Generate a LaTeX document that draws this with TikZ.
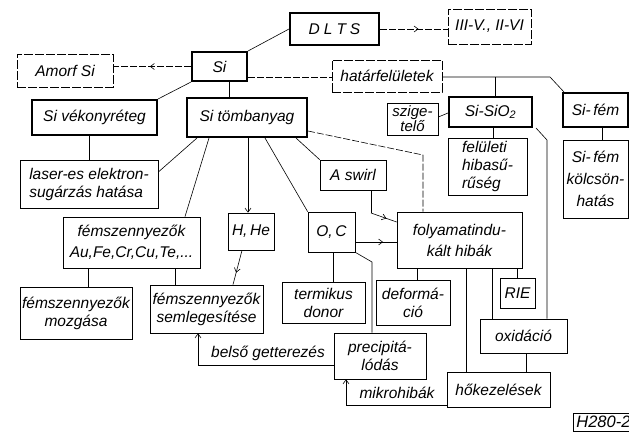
\documentclass[tikz,border=0pt]{standalone}
\usepackage{fontspec}
\setmainfont{Liberation Sans}
\usetikzlibrary{arrows.meta,decorations.markings,calc}
\begin{document}
\begin{tikzpicture}[x=1pt,y=-1pt,
  >={Straight Barb[length=4pt,width=6pt]},
  every node/.style={font=\fontsize{15.5}{18}\selectfont\itshape, inner sep=1pt},
  bx/.style={draw, line width=0.7pt},
  tbx/.style={draw, line width=2pt},
  dbx/.style={draw, line width=0.7pt, dash pattern=on 9pt off 2pt},
  ln/.style={line width=0.6pt},
  dln/.style={line width=0.6pt, dash pattern=on 7pt off 2pt},
  midarrow/.style={postaction={decorate},decoration={markings,mark=at position #1 with {\arrow{>}}}},
  midarrow/.default=0.55]
\fill[white] (0,0) rectangle (629,432);
\useasboundingbox (0,0) rectangle (629,432);

% nodes
\node[tbx, minimum width=89pt, minimum height=32pt] (dlts) at (334.5,29) {D\kern4pt L\kern4pt T\kern4pt S};
\node[dbx, minimum width=83pt, minimum height=35pt] (iiiv) at (489.5,26.5) {III-V., II-VI};
\node[tbx, minimum width=55pt, minimum height=29pt] (si) at (219.5,66.5) {Si};
\node[dbx, minimum width=96pt, minimum height=33pt] (amorf) at (65,70.5) {Amorf Si};
\node[tbx, minimum width=125pt, minimum height=35pt] (vek) at (94.5,117.5) {Si vékonyréteg};
\node[tbx, minimum width=120pt, minimum height=39pt] (tomb) at (247,117.5) {Si tömbanyag};
\node[dbx, minimum width=110pt, minimum height=32pt] (hatar) at (387,76) {határfelületek};
\node[tbx, minimum width=83pt, minimum height=30pt] (sio) at (490.5,112) {Si-SiO\textsubscript{2}};
\node[tbx, minimum width=65pt, minimum height=34pt] (sifem) at (595.5,110) {Si-\,fém};
\node[bx, minimum width=51pt, minimum height=32pt, align=center, font=\fontsize{15}{14}\selectfont\itshape] (szig) at (412.5,119) {szige-\\telő};
\node[bx, minimum width=79pt, minimum height=57pt, align=left] (felul) at (487.5,166.5) {felületi\\hibasű-\\rűség};
\node[bx, minimum width=65pt, minimum height=78pt, align=center, font=\fontsize{15.5}{22}\selectfont\itshape] (kolcs) at (595.5,179) {Si-\,fém\\kölcsön-\\hatás};
\node[bx, minimum width=138pt, minimum height=48pt, align=left] (laser) at (89,184) {laser-es elektron-\\sugárzás hatása};
\node[bx, minimum width=137pt, minimum height=51pt, align=center, font=\fontsize{15.5}{21}\selectfont\itshape] (fem1) at (131.5,242.5) {fémszennyezők\\Au,Fe,Cr,Cu,Te,...};
\node[bx, minimum width=46pt, minimum height=37pt] (hhe) at (251,231.5) {H,\,He};
\node[bx, minimum width=47pt, minimum height=40pt] (oc) at (331.5,232) {O,\,C};
\node[bx, minimum width=66pt, minimum height=30pt] (swirl) at (353,175) {A swirl};
\node[bx, minimum width=125pt, minimum height=56pt, align=center, font=\fontsize{15.5}{21}\selectfont\itshape] (folyam) at (459.5,240) {folyamatindu-\\kált hibák};
\node[bx, minimum width=83pt, minimum height=41pt, align=center] (term) at (323.5,302.5) {termikus\\donor};
\node[bx, minimum width=74pt, minimum height=45pt, align=center] (deform) at (413,302.5) {deformá-\\ció};
\node[bx, minimum width=35pt, minimum height=30pt] (rie) at (517.5,293) {RIE};
\node[bx, minimum width=87pt, minimum height=34pt] (oxid) at (523.5,336) {oxidáció};
\node[bx, minimum width=103pt, minimum height=35pt] (hokez) at (498.5,389.5) {hőkezelések};
\node[bx, minimum width=92pt, minimum height=46pt, align=center] (precip) at (380,356) {precipitá-\\lódás};
\node[bx, minimum width=112pt, minimum height=52pt, align=center] (mozg) at (76,313) {fémszennyezők\\mozgása};
\node[bx, minimum width=113pt, minimum height=48pt, align=center] (semleg) at (206.5,309) {fémszennyezők\\semlegesítése};
\node[bx, anchor=north west, inner sep=3pt, text width=90pt, align=left, font=\fontsize{16.5}{18}\selectfont\itshape] (hcode) at (573,413) {H280-2};

% labels
\node (lbelso) at (268,353) {belső getterezés};
\node (lmikro) at (397,393) {mikrohibák};

% connectors
\draw[ln] (si.north east) -- (dlts.west);
\draw[dln, midarrow=0.57] (dlts.east) -- (dlts.east -| iiiv.west);
\draw[dln, midarrow=0.53] (si.west) -- (si.west -| amorf.east);
\draw[ln] (si.south west) -- (vek.north east);
\draw[ln] ([xshift=10pt]si.south) -- ([xshift=10pt]si.south |- tomb.north);
\draw[dln] ([yshift=-11pt]si.east) -- ([yshift=-11pt]si.east -| hatar.west);
\coordinate (hb1) at (550,77);
\coordinate (hb2) at (495,77);
\draw[ln] (hatar.east |- hb1) -- (hb1) -- ([xshift=2pt]sifem.north west);
\draw[ln] (hb2) -- (hb2 |- sio.north);
\draw[ln] ([yshift=2pt]szig.east) -- ([yshift=-1pt]sio.west);
\draw[ln] ([xshift=2.5pt]sio.south) -- ([xshift=2.5pt]sio.south |- felul.north);
\coordinate (sb) at (547,140);
\draw[ln] ([xshift=3pt]sio.south east) -- (sb) -- (sb |- oxid.north);
\draw[ln] ([xshift=6.5pt]sifem.south) -- ([xshift=6.5pt]sifem.south |- kolcs.north);
\draw[ln] (laser.north) -- (laser.north |- vek.south);
\draw[ln] ([xshift=-50pt]tomb.south) -- ([yshift=12pt]laser.east);
\draw[ln] ([xshift=-38pt]tomb.south) -- ([xshift=53.5pt]fem1.north);
\draw[ln,->] ([xshift=1pt]tomb.south) -- ([xshift=1pt]tomb.south |- hhe.north);
\draw[ln] ([xshift=18pt]tomb.south) -- (oc.north west);
\draw[ln] ([xshift=-12pt]tomb.south east) -- (swirl.north west);
\coordinate (fb) at (423,155);
\draw[dln] ([yshift=7pt]tomb.south east) -- (fb) -- (fb |- folyam.north);
\coordinate (swb) at (371,213);
\draw[ln] ([xshift=18pt]swirl.south) -- (swb);
\draw[ln, midarrow=0.6] (swb) -- ([yshift=18pt]folyam.west);
\draw[ln, midarrow=0.67] ([yshift=-10pt]oc.east) -- ([yshift=-10pt]oc.east -| folyam.west);
\draw[ln] ([xshift=1.5pt]oc.south) -- ([xshift=1.5pt]oc.south |- term.north);
\coordinate (ob) at (372,262);
\draw[ln] (oc.south east) -- (ob) -- (ob |- precip.north);
\draw[ln] ([xshift=12pt]mozg.north) -- ([xshift=12pt]mozg.north |- fem1.south);
\draw[ln] ([xshift=-31.5pt]semleg.north) -- ([xshift=-31.5pt]semleg.north |- fem1.south);
\draw[ln, midarrow=0.65] ([xshift=-9pt]hhe.south) -- ([xshift=26.5pt]semleg.north);
\draw[ln] ([xshift=4pt]deform.north) -- ([xshift=4pt]deform.north |- folyam.south);
\draw[ln] ([xshift=6.5pt]folyam.south) -- ([xshift=6.5pt]folyam.south |- hokez.north);
\draw[ln] ([xshift=32.5pt]folyam.south) -- ([xshift=32.5pt]folyam.south |- oxid.north);
\draw[ln] (rie.north) -- (rie.north |- folyam.south);
\draw[ln] ([xshift=2.5pt]oxid.south) -- ([xshift=2.5pt]oxid.south |- hokez.north);
\draw[ln,->] ([yshift=-9pt]precip.west) -| ([xshift=-8.5pt]semleg.south);
\draw[ln,->] ([yshift=-15.5pt]hokez.west) -| ([xshift=-34pt]precip.south);
\end{tikzpicture}
\end{document}
